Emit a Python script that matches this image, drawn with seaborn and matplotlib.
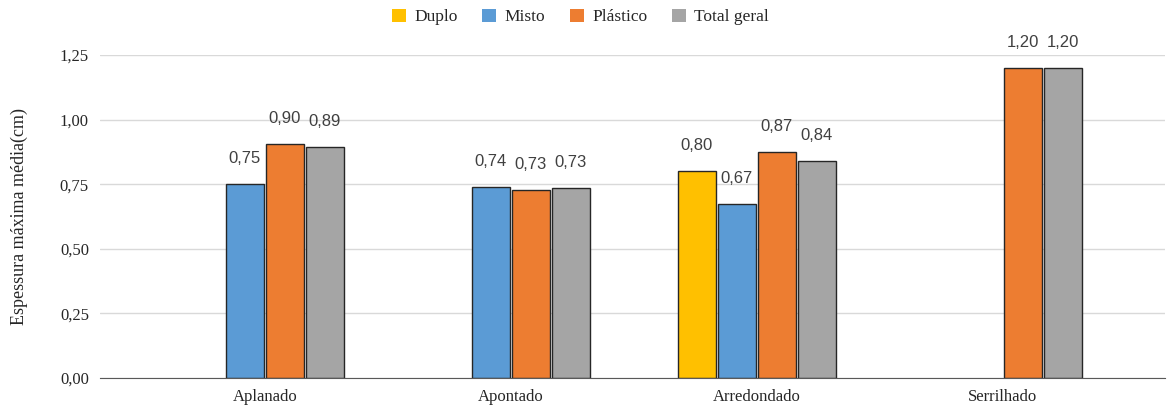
import pandas as pd
import numpy as np
import seaborn as sns
from matplotlib import pyplot as plt

categorias = ["Aplanado", "Apontado", "Arredondado", "Serrilhado"]
tipos = ["Duplo", "Misto", "Plástico", "Total geral"]
duplo = [np.nan, np.nan, 0.80, np.nan]
misto = [0.75, 0.74, 0.674, np.nan]
plastico = [0.904, 0.727, 0.873, 1.20]
total = [0.894, 0.734, 0.84, 1.20]
cores = ["#FFC000", "#5B9BD5", "#ED7D31", "#A5A5A5"]

rows = []
for tipo, vals in zip(tipos, [duplo, misto, plastico, total]):
    for cat, v in zip(categorias, vals):
        if not np.isnan(v):
            rows.append({"Formato": cat, "Tipo": tipo, "Valor": v})
df = pd.DataFrame(rows)

sns.set_style("white")
plt.rcParams["font.family"] = ["Liberation Serif", "DejaVu Serif"]

fig = plt.figure(figsize=(11.68, 4.09), dpi=100)
ax = fig.add_axes([100/1168, 1-378/409, 1065/1168, (378-55)/409])

sns.barplot(data=df, x="Formato", y="Valor", hue="Tipo", order=categorias,
            hue_order=tipos, palette=cores, saturation=1, width=0.65, gap=0.05,
            edgecolor="#262626", linewidth=1.0, errorbar=None, ax=ax)

for cont in ax.containers:
    ax.bar_label(cont, fmt=lambda v: f"{v:.2f}".replace(".", ","), padding=13,
                 fontsize=12, color="#404040", family="Liberation Sans")

ax.set_ylim(0, 1.25)
ax.set_xlim(-0.67, 3.66)
ax.set_yticks([0, 0.25, 0.5, 0.75, 1.0, 1.25])
ax.set_yticklabels([f"{t:.2f}".replace(".", ",") for t in ax.get_yticks()])
ax.yaxis.grid(True, color="#d9d9d9", linewidth=1)
ax.set_axisbelow(True)
for s in ["top", "right", "left"]:
    ax.spines[s].set_visible(False)
ax.spines["bottom"].set_color("#595959")
ax.tick_params(axis="both", labelsize=12, colors="#262626", length=0, pad=8)
ax.set_xlabel("")
ax.set_ylabel("Espessura máxima média(cm)", fontsize=13, color="#262626")
ax.yaxis.set_label_coords(-0.068, 0.5)

sns.move_legend(ax, "center", bbox_to_anchor=(0.497, 1-17/409),
                bbox_transform=fig.transFigure, ncol=4, frameon=False,
                title=None, fontsize=12.5, handlelength=0.8, handleheight=0.8,
                columnspacing=1.4, handletextpad=0.5)
for h in ax.get_legend().get_patches():
    h.set_edgecolor("none")

plt.savefig("out.png", dpi=100)
